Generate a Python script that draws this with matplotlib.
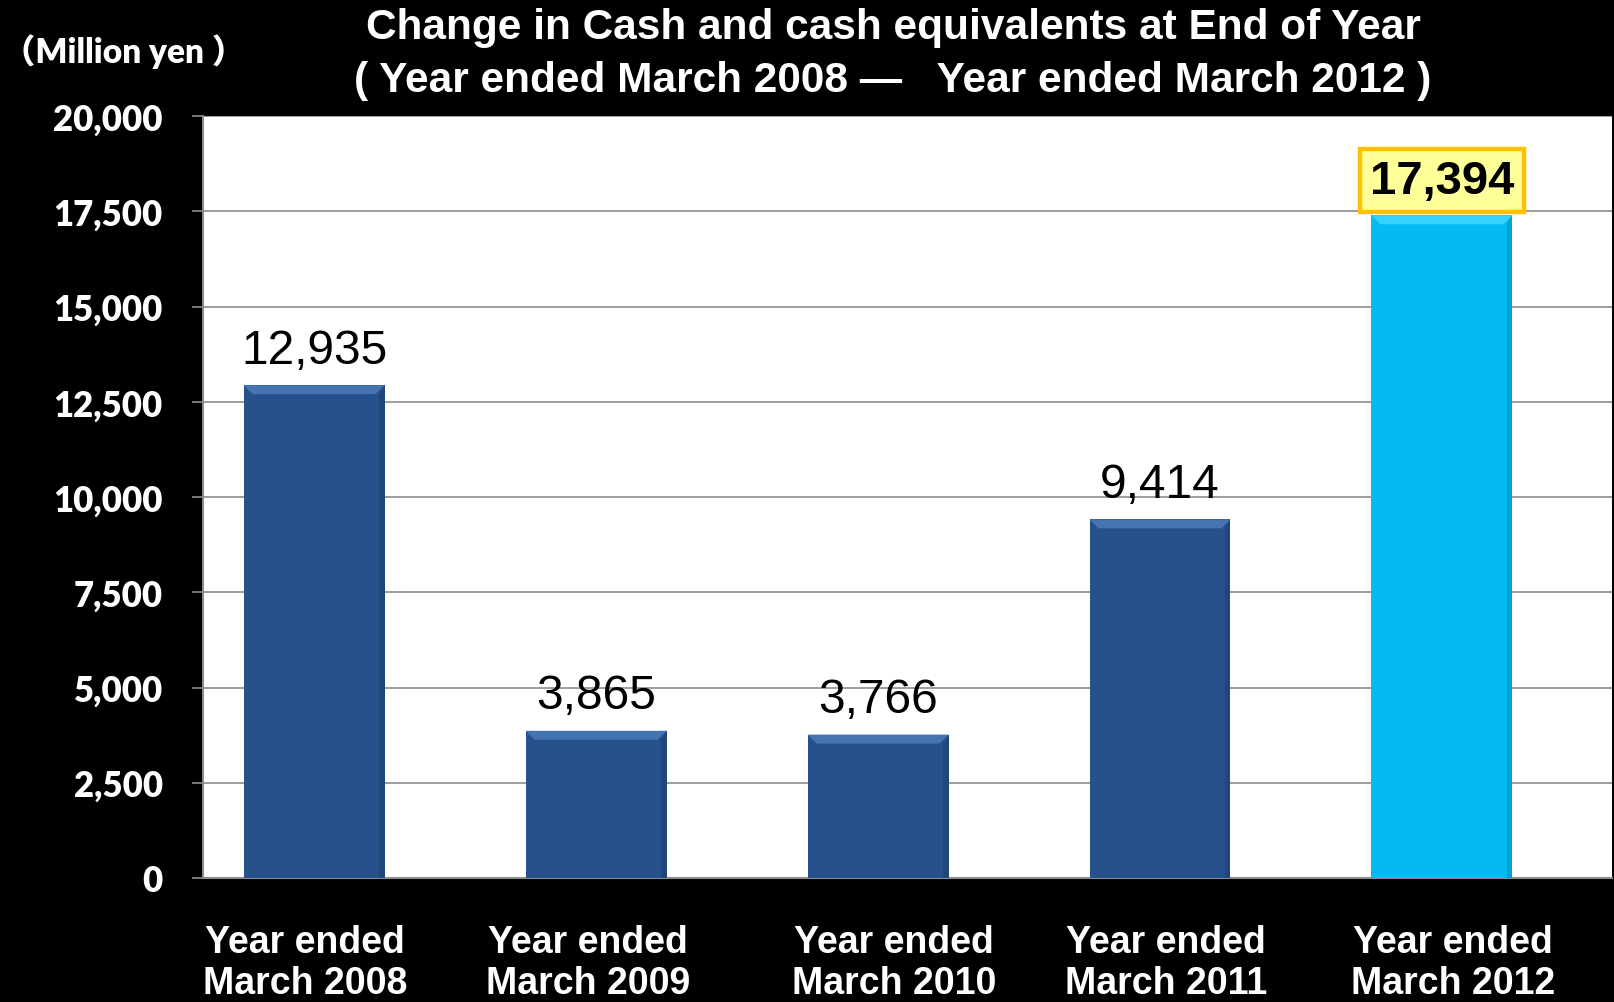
import matplotlib
matplotlib.use('Agg')
import matplotlib.pyplot as plt
import matplotlib.transforms as mtransforms
from matplotlib.patches import Polygon
from matplotlib.ticker import FuncFormatter, MultipleLocator

# --- data ---
categories = ['Year ended\nMarch 2008', 'Year ended\nMarch 2009', 'Year ended\nMarch 2010',
              'Year ended\nMarch 2011', 'Year ended\nMarch 2012']
cash = [12935, 3865, 3766, 9414, 17394]
highlight_idx = 4

title_line1 = 'Change in Cash and cash equivalents at End of Year'
title_line2 = '( Year ended March 2008 \u2014   Year ended March 2012 )'
unit_label = '\uff08Million yen \uff09'

DARK_BLUE = '#26518a'
DARK_TOP = '#4a7cba'
CYAN = '#05b9f2'
CYAN_TOP = '#3fd6ff'

fig = plt.figure(figsize=(16.14, 10.03), dpi=100, facecolor='black')
W, H = 1614, 1003
ax = fig.add_axes([203 / W, 1 - 879 / H, (1612 - 203) / W, (879 - 117) / H])
ax.set_facecolor('white')

x = list(range(len(cash)))
colors = [CYAN if i == highlight_idx else DARK_BLUE for i in x]
bars = ax.bar(x, cash, width=0.5, color=colors, edgecolor='none', zorder=3)

ax.set_ylim(0, 20000)
ax.set_xlim(-0.394, 4.603)
ax.yaxis.set_major_locator(MultipleLocator(2500))
ax.yaxis.set_major_formatter(FuncFormatter(lambda v, p: f'{int(v):,}'))
ax.grid(axis='y', color='#8c8c8c', linewidth=1.2, zorder=1)
ax.set_axisbelow(True)

for side in ['top', 'right']:
    ax.spines[side].set_visible(False)
for side in ['left', 'bottom']:
    ax.spines[side].set_color('#8c8c8c')
    ax.spines[side].set_linewidth(1.5)

ax.tick_params(axis='y', colors='#8c8c8c', length=8, width=1.2, pad=21)
ax.tick_params(axis='x', length=0, pad=33)
for lbl in ax.get_yticklabels():
    lbl.set_color('white')
    lbl.set_fontfamily('Lato')
    lbl.set_fontweight('heavy')
    lbl.set_fontsize(25)

ax.set_xticks(x)
ax.set_xticklabels(categories, color='white', fontsize=27, fontweight='bold',
                   family='Liberation Sans', linespacing=1.2)
# the category labels sit slightly off the bar centres in the original slide
label_shift_px = [-9, -8, 16, 6, 11]
for lbl, shift in zip(ax.get_xticklabels(), label_shift_px):
    lbl.set_transform(lbl.get_transform() +
                      mtransforms.ScaledTranslation(shift / 100, 0, fig.dpi_scale_trans))

# bevel-like highlight along the top of each bar
px_per_y = (879 - 117) / 20000
px_per_x = (1612 - 203) / (4.603 + 0.394)
band_px = 9
dy = band_px / px_per_y
dx = band_px / px_per_x
for i, (b, v) in enumerate(zip(bars, cash)):
    x0 = b.get_x()
    x1 = x0 + b.get_width()
    top_col = CYAN_TOP if i == highlight_idx else DARK_TOP
    ax.add_patch(Polygon([(x0, v), (x1, v), (x1 - dx, v - dy), (x0 + dx, v - dy)],
                         closed=True, facecolor=top_col, edgecolor='none', alpha=0.85, zorder=4))
    ax.add_patch(Polygon([(x1, v), (x1, 0), (x1 - dx * 0.6, 0), (x1 - dx * 0.6, v - dy)],
                         closed=True, facecolor='black', edgecolor='none', alpha=0.12, zorder=4))

# value labels
for i, v in enumerate(cash):
    if i == highlight_idx:
        ax.annotate(f'{v:,}', xy=(i, v), xytext=(0, 9), textcoords='offset points',
                    ha='center', va='bottom', fontsize=34, fontweight='bold',
                    family='Liberation Sans', color='black', zorder=6,
                    bbox=dict(boxstyle='square,pad=0.2', facecolor='#ffff99',
                              edgecolor='#ffc000', linewidth=3.2))
    else:
        ax.annotate(f'{v:,}', xy=(i, v), xytext=(0, 9), textcoords='offset points',
                    ha='center', va='bottom', fontsize=34.5, family='Liberation Sans',
                    color='black', zorder=6)

fig.text(893 / W, 1 - 39 / H, title_line1, ha='center', va='baseline', color='white',
         fontsize=30.5, fontweight='bold', family='Liberation Sans')
fig.text(893 / W, 1 - 92 / H, title_line2, ha='center', va='baseline', color='white',
         fontsize=30.5, fontweight='bold', family='Liberation Sans')
fig.text(2 / W, 1 - 52 / H, unit_label, ha='left', va='center', color='white',
         fontsize=24, fontweight='heavy', family=['Lato', 'Noto Sans CJK JP'])

fig.savefig('out.png', dpi=100, facecolor='black')
